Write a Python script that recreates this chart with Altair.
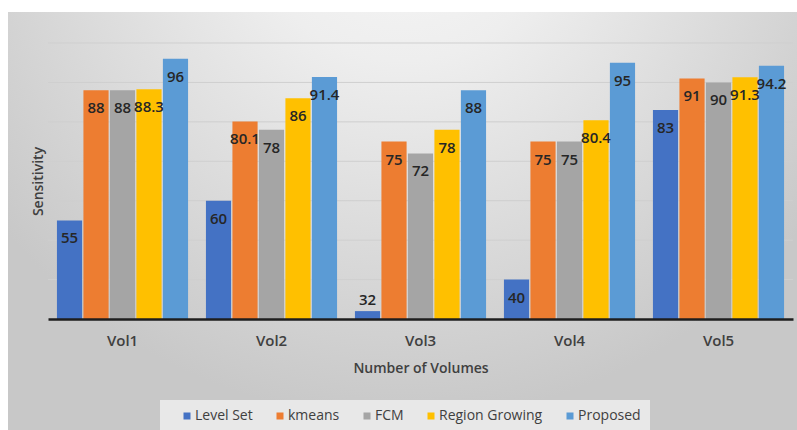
import altair as alt
import pandas as pd

vols = ["Vol1", "Vol2", "Vol3", "Vol4", "Vol5"]
methods = ["Level Set", "kmeans", "FCM", "Region Growing", "Proposed"]
colors = ["#4472C4", "#ED7D31", "#A5A5A5", "#FFC000", "#5B9BD5"]

level_set = [55, 60, 32, 40, 83]
kmeans = [88, 80.1, 75, 75, 91]
fcm = [88, 78, 72, 75, 90]
region_growing = [88.3, 86, 78, 80.4, 91.3]
proposed = [96, 91.4, 88, 95, 94.2]

grid_values = [40, 50, 60, 70, 80, 90, 100]
y_domain = [30, 100]

series = [level_set, kmeans, fcm, region_growing, proposed]
rows = []
for m, vals in zip(methods, series):
    for v, val in zip(vols, vals):
        rows.append({"vol": v, "method": m, "value": val})
df = pd.DataFrame(rows)
grid_df = pd.DataFrame({"value": grid_values})

FONT = "Open Sans"

y_enc = alt.Y(
    "value:Q",
    scale=alt.Scale(domain=y_domain, nice=False, zero=False),
    axis=alt.Axis(
        title="Sensitivity", labels=False, ticks=False, domain=False, grid=False,
        titleFont=FONT, titleFontSize=14, titleFontWeight=600, titleColor="#404040",
        titlePadding=3, zindex=1,
    ),
)
x_enc = alt.X(
    "vol:N",
    sort=vols,
    scale=alt.Scale(paddingInner=0.12, paddingOuter=0.06),
    axis=alt.Axis(
        title="Number of Volumes", labelAngle=0, ticks=False,
        labelFont=FONT, labelFontSize=15, labelFontWeight=600, labelColor="#404040",
        labelPadding=14, domainColor="#1e1e1e", domainWidth=2.5,
        titleFont=FONT, titleFontSize=14, titleFontWeight=600, titleColor="#404040",
        titlePadding=13, zindex=1,
    ),
)
xoff_enc = alt.XOffset("method:N", sort=methods, scale=alt.Scale(paddingInner=0.05))

bg_gradient = {
    "gradient": "radial",
    "x1": 0.5, "y1": 0.1, "r1": 0,
    "x2": 0.5, "y2": 0.1, "r2": 0.65,
    "stops": [
        {"offset": 0, "color": "#f7f7f7"},
        {"offset": 0.3, "color": "#eeeeee"},
        {"offset": 1, "color": "#c8c8c8"},
    ],
}

one = alt.Data(values=[{"a": 1}])
background = alt.Chart(one).mark_rect(fill=bg_gradient).encode(
    x=alt.value(-40), x2=alt.value(749), y=alt.value(-31), y2=alt.value(390)
)
legend_box = alt.Chart(one).mark_rect(fill="#ebebeb", opacity=0.9).encode(
    x=alt.value(112), x2=alt.value(602), y=alt.value(357), y2=alt.value(390)
)

grid = alt.Chart(grid_df).mark_rule(color="#cfcfcf", strokeWidth=1).encode(y=y_enc)

bars = alt.Chart(df).mark_bar().encode(
    x=x_enc,
    xOffset=xoff_enc,
    y=y_enc,
    y2=alt.datum(30),
    color=alt.Color(
        "method:N", sort=methods,
        scale=alt.Scale(domain=methods, range=colors),
        legend=alt.Legend(
            orient="none", legendX=132, legendY=366, direction="horizontal",
            title=None, symbolType="square", symbolSize=49, symbolStrokeWidth=0,
            symbolOpacity=1, labelFont=FONT, labelFontSize=14, labelColor="#404040",
            columnPadding=20, labelOffset=1, padding=0,
        ),
    ),
)

text_in = alt.Chart(df).transform_filter("datum.value >= 35").mark_text(
    font=FONT, fontSize=15, fontWeight=600, color="#262626", baseline="middle", dy=18
).encode(x=x_enc, xOffset=xoff_enc, y=y_enc, text=alt.Text("value:Q"))

text_out = alt.Chart(df).transform_filter("datum.value < 35").mark_text(
    font=FONT, fontSize=15, fontWeight=600, color="#262626", baseline="middle", dy=-11
).encode(x=x_enc, xOffset=xoff_enc, y=y_enc, text=alt.Text("value:Q"))

chart = alt.layer(background, legend_box, grid, bars, text_in, text_out).properties(
    width=745,
    height=276,
    autosize=alt.AutoSizeParams(type="none"),
    padding={"left": 48, "top": 43, "right": 4, "bottom": 111},
    background="white",
).configure_view(stroke=None)

chart.save("out.html", embed_options={"renderer": "svg", "actions": False})
